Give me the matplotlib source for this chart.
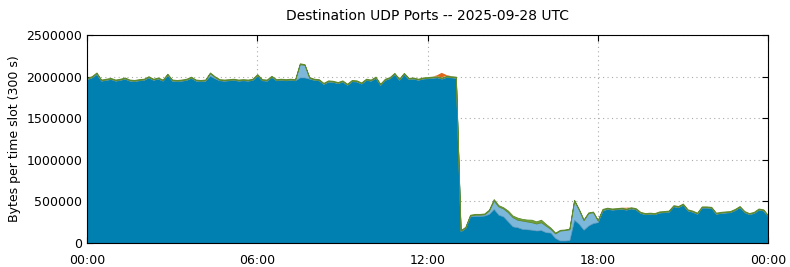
import numpy as np
import matplotlib
matplotlib.use("Agg")
import matplotlib.pyplot as plt

# time of each slot (hours), one value every 10 minutes
slot_minutes = 10

# main (dark blue) series, thousands of bytes per slot
main_k = [
    1970, 1990, 2030, 1950, 1960, 1970, 1950, 1960, 1975, 1950,
    1945, 1955, 1960, 1990, 1960, 1975, 1950, 2020, 1950, 1945,
    1950, 1960, 1985, 1950, 1945, 1950, 2010, 1980, 1955, 1950,
    1955, 1960, 1950, 1955, 1950, 1960, 2015, 1955, 1950, 1995,
    1955, 1960, 1955, 1960, 1955, 1990, 1990, 1975, 1960, 1955,
    1910, 1940, 1935, 1920, 1940, 1900, 1945, 1940, 1915, 1960,
    1950, 1985, 1900, 1960, 1980, 2030, 1960, 2030, 1970, 1975,
    1960, 1975, 1980, 1985, 1990, 1975, 1995, 1990, 1985, 140,
    180, 320, 325, 325, 330, 350, 410, 340, 320, 260,
    200, 190, 170, 165, 160, 150, 155, 130, 125, 60,
    30, 30, 35, 280, 230, 160, 210, 240, 250, 390,
    410, 400, 405, 410, 400, 415, 405, 360, 345, 350,
    345, 365, 370, 375, 440, 430, 460, 390, 375, 350,
    425, 425, 420, 350, 360, 365, 370, 395, 430, 370,
    345, 360, 400, 390, 320,
]

# light blue series
light_k = [
    5, 5, 10, 5, 5, 5, 5, 5, 5, 5,
    5, 5, 5, 5, 5, 5, 5, 5, 5, 5,
    5, 5, 5, 5, 5, 5, 30, 15, 5, 5,
    5, 5, 5, 5, 5, 5, 5, 5, 5, 5,
    5, 5, 5, 5, 5, 160, 150, 10, 5, 5,
    5, 5, 5, 5, 5, 5, 5, 5, 5, 5,
    5, 5, 5, 5, 5, 5, 5, 5, 5, 5,
    5, 5, 5, 5, 5, 5, 5, 5, 5, 5,
    5, 10, 15, 15, 15, 40, 100, 100, 95, 110,
    110, 90, 100, 95, 90, 85, 95, 80, 45, 55,
    120, 125, 130, 230, 170, 115, 150, 130, 20, 10,
    5, 5, 5, 5, 5, 5, 5, 5, 5, 5,
    5, 5, 5, 5, 5, 5, 5, 5, 5, 5,
    5, 5, 5, 5, 5, 5, 5, 5, 5, 5,
    5, 5, 5, 5, 5,
]

# green series
green_k = [10] * 85 + [12, 18, 15, 15, 20, 20, 25, 20, 22, 30,
                       25, 30, 20, 15, 10, 8, 8, 8, 10, 10,
                       8, 8, 8, 8, 10] + [10] * 35

# orange series
orange_k = [0] * 74 + [10, 55, 10] + [0] * 37 + [8] + [0] * 30

main = np.array(main_k) * 1000.0
light = np.array(light_k) * 1000.0
green = np.array(green_k) * 1000.0
orange = np.array(orange_k) * 1000.0
hours = np.arange(len(main)) * slot_minutes / 60.0

series = [main, light, green, orange]
colors = ["#0080b1", "#7db7da", "#72a335", "#e0661a"]
edges = ["#0a6f98", "#5b9cc2", "#5f8a30", "none"]
widths = [0.5, 0.5, 0.6, 0.0]

x_ticks = [0, 6, 12, 18, 24]
x_labels = ["00:00", "06:00", "12:00", "18:00", "00:00"]
y_ticks = [0, 500000, 1000000, 1500000, 2000000, 2500000]

fig = plt.figure(figsize=(7.9, 2.67), dpi=100)
ax = fig.add_axes([87 / 790, 1 - 243 / 267, (768 - 87) / 790, (243 - 35) / 267])

base = np.zeros_like(main)
for s, c, e, w in zip(series, colors, edges, widths):
    top = base + s
    ax.fill_between(hours, base, top, facecolor=c, edgecolor=e, linewidth=w, zorder=2)
    base = top

ax.set_xlim(0, 24)
ax.set_ylim(0, 2500000)
ax.set_xticks(x_ticks)
ax.set_xticklabels(x_labels)
ax.set_yticks(y_ticks)
ax.set_yticklabels([str(v) for v in y_ticks])
ax.tick_params(direction="in", top=True, right=True, labelsize=9, length=4)
ax.tick_params(axis="x", pad=8)
ax.grid(True, linestyle=(0, (1, 3)), color="#aaaaaa", linewidth=0.8, zorder=1)
ax.set_axisbelow(True)
ax.set_ylabel("Bytes per time slot (300 s)", fontsize=9)
ax.set_title("Destination UDP Ports -- 2025-09-28 UTC", fontsize=10, pad=11)

fig.savefig("out.png", dpi=100)
